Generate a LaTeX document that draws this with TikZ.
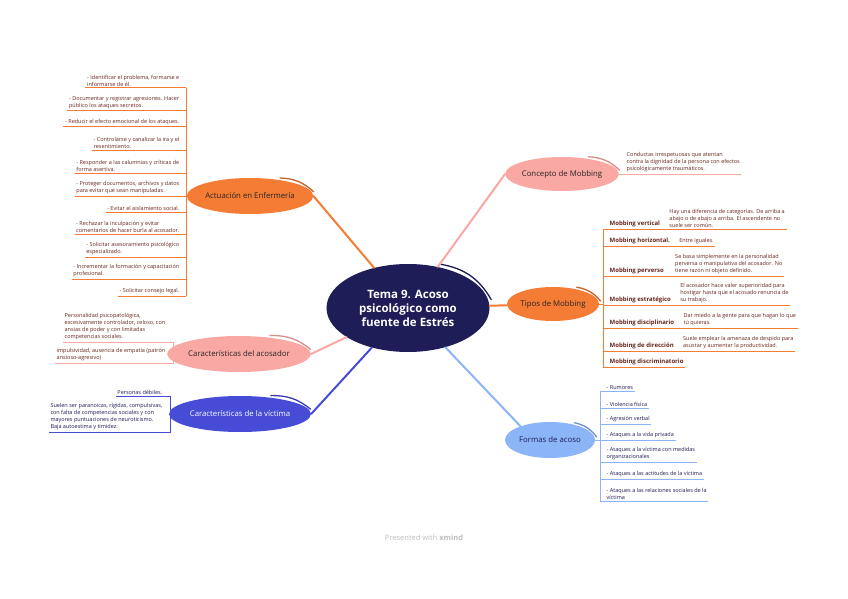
\documentclass[tikz,border=0pt]{standalone}
\usepackage{fontspec}
\setmainfont{Open Sans}
\usetikzlibrary{shapes.geometric}
\definecolor{mmnavy}{RGB}{30,29,88}
\definecolor{mmorange}{RGB}{245,124,52}
\definecolor{mmpink}{RGB}{249,168,164}
\definecolor{mmblue}{RGB}{70,76,214}
\definecolor{mmsky}{RGB}{140,181,248}
\definecolor{leafred}{RGB}{105,38,30}
\definecolor{leafnavy}{RGB}{30,29,88}
\tikzset{
  root/.style={ellipse, fill=mmnavy, text=white, minimum width=163pt, minimum height=88pt,
              inner sep=0pt, align=center, font=\fontsize{11.5}{14}\selectfont\bfseries},
  topic/.style={ellipse, inner sep=0pt, minimum height=36pt, align=center,
              font=\fontsize{7.8}{9}\selectfont, text=black!85},
  leaf/.style={inner sep=1.5pt, align=left, font=\fontsize{5.5}{7}\selectfont, text=leafred},
  kind/.style={leaf, font=\fontsize{6}{7}\selectfont\bfseries},
  branch/.style={line width=2pt, line cap=round},
  twig/.style={line width=1pt},
  swoosh/.style={line width=1.3pt, line cap=round},
}

\begin{document}
\begin{tikzpicture}[x=1pt, y=-1pt]
    \fill[white] (0,0) rectangle (848,599);
    \useasboundingbox (0,0) rectangle (848,599);

    % main topics
    \node[root] (root) at (408,308) {Tema 9. Acoso\\ psicológico como\\ fuente de Estrés};
    \node[topic, fill=mmorange, minimum width=120pt] (act) at (250,196) {Actuación en Enfermería};
    \node[topic, fill=mmpink, minimum width=124pt] (acos) at (239,354) {Características del acosador};
    \node[topic, fill=mmblue, text=white, minimum width=128pt] (vict) at (240,414) {Características de la víctima};
    \node[topic, fill=mmpink, minimum width=110pt, minimum height=34pt] (conc) at (562,174) {Concepto de Mobbing};
    \node[topic, fill=mmorange, minimum width=90pt, minimum height=34pt] (tipos) at (553,304) {Tipos de Mobbing};
    \node[topic, fill=mmsky, text=mmnavy, minimum width=90pt] (form) at (550,440) {Formas de acoso};

    \draw[swoosh, mmnavy] ([xshift=1pt, yshift=3pt]root.52) to[bend left=25] ([xshift=3pt]root.6);
    \draw[swoosh, mmorange!80!black] ([yshift=2pt]act.28) to[bend left=20] ([xshift=2pt]act.4);
    \draw[swoosh, mmpink!85!black] ([yshift=2pt]acos.28) to[bend left=20] ([xshift=2pt]acos.4);
    \draw[swoosh, mmblue!80!black] ([yshift=2pt]vict.28) to[bend left=20] ([xshift=2pt]vict.4);
    \draw[swoosh, mmpink!85!black] ([yshift=2pt]conc.30) to[bend left=20] ([xshift=2pt]conc.4);
    \draw[swoosh, mmorange!80!black] ([yshift=2pt]tipos.32) to[bend left=20] ([xshift=2pt]tipos.4);
    \draw[swoosh, mmsky!80!black] ([yshift=2pt]form.32) to[bend left=20] ([xshift=2pt]form.4);

    \draw[branch, mmorange] (root) -- (act.east);
    \draw[branch, mmpink] (root) -- (acos.east);
    \draw[branch, mmblue] (root) -- (vict.east);
    \draw[branch, mmpink] (root) -- (conc.west);
    \draw[branch, mmorange] (root) -- (tipos);
    \draw[branch, mmsky] (root) -- (form.155);

    % Actuación en Enfermería
    \coordinate (actT) at (186,196);
    \node[leaf, anchor=south east] (a1) at (181,88) {- Identificar el problema, formarse e\\informarse de él.};
    \node[leaf, anchor=south east] (a2) at (181,111) {- Documentar y registrar agresiones. Hacer\\público los ataques secretos.};
    \node[leaf, anchor=south east] (a3) at (181,127) {- Reducir el efecto emocional de los ataques.};
    \node[leaf, anchor=south east] (a4) at (181,150) {- Controlarse y canalizar la ira y el\\resentimiento.};
    \node[leaf, anchor=south east] (a5) at (181,173) {- Responder a las calumnias y críticas de\\forma asertiva.};
    \node[leaf, anchor=south east] (a6) at (181,196) {- Proteger documentos, archivos y datos\\para evitar que sean manipuladas.};
    \node[leaf, anchor=south east] (a7) at (181,212) {- Evitar el aislamiento social.};
    \node[leaf, anchor=south east] (a8) at (181,234) {- Rechazar la inculpación y evitar\\comentarios de hacer burla al acosador.};
    \node[leaf, anchor=south east] (a9) at (181,257) {- Solicitar asesoramiento psicológico\\especializado.};
    \node[leaf, anchor=south east] (a10) at (181,279) {- Incrementar la formación y capacitación\\profesional.};
    \node[leaf, anchor=south east] (a11) at (181,296) {- Solicitar consejo legal.};
    \draw[twig, mmorange] (a1.south west -| actT) -- (a11.south west -| actT);
    \draw[twig, mmorange] (act.west) -- (actT);
    \draw[twig, mmorange] (a1.south west) -- (a1.south west -| actT);
    \draw[twig, mmorange] (a2.south west) -- (a2.south west -| actT);
    \draw[twig, mmorange] (a3.south west) -- (a3.south west -| actT);
    \draw[twig, mmorange] (a4.south west) -- (a4.south west -| actT);
    \draw[twig, mmorange] (a5.south west) -- (a5.south west -| actT);
    \draw[twig, mmorange] (a6.south west) -- (a6.south west -| actT);
    \draw[twig, mmorange] (a7.south west) -- (a7.south west -| actT);
    \draw[twig, mmorange] (a8.south west) -- (a8.south west -| actT);
    \draw[twig, mmorange] (a9.south west) -- (a9.south west -| actT);
    \draw[twig, mmorange] (a10.south west) -- (a10.south west -| actT);
    \draw[twig, mmorange] (a11.south west) -- (a11.south west -| actT);

    % Características del acosador
    \coordinate (acosT) at (173,354);
    \node[leaf, anchor=south east] (ac1) at (167,342) {Personalidad psicopatológica,\\excesivamente controlador, celoso, con\\ansias de poder y con limitadas\\competencias sociales.};
    \node[leaf, anchor=south east] (ac2) at (167,363) {impulsividad, ausencia de empatía (patrón\\ansioso-agresivo)};
    \draw[twig, mmpink] (ac1.south west) -- (ac1.south west -| acosT) -- (ac2.south west -| acosT) -- (ac2.south west);
    \draw[twig, mmpink] (acos.west) -- (acosT);

    % Características de la víctima
    \coordinate (victT) at (170,414);
    \node[leaf, text=leafnavy, anchor=south east] (vi1) at (164,396) {Personas débiles.};
    \node[leaf, text=leafnavy, anchor=south east] (vi2) at (164,432) {Suelen ser paranoicas, rígidas, compulsivas,\\con falta de competencias sociales y con\\mayores puntuaciones de neuroticismo.\\Baja autoestima y timidez.};
    \draw[twig, mmblue] (vi1.south west) -- (vi1.south west -| victT) -- (vi2.south west -| victT) -- (vi2.south west);
    \draw[twig, mmblue] (vict.west) -- (victT);

    % Concepto de Mobbing
    \node[leaf, anchor=south west] (c1) at (625,174) {Conductas irrespetuosas que atentan\\contra la dignidad de la persona con efectos\\psicológicamente traumáticos.};
    \draw[twig, mmpink] (conc.east) -- (c1.south east);

    % Tipos de Mobbing
    \coordinate (tipT) at (603,304);
    \node[kind, anchor=south west] (tv) at (608,229) {Mobbing vertical};
    \node[leaf, anchor=south west] (tvd) at ([xshift=6pt]tv.south east) {Hay una diferencia de categorías. De arriba a\\abajo o de abajo a arriba. El ascendente no\\suele ser común.};
    \node[kind, anchor=south west] (th) at (608,246) {Mobbing horizontal.};
    \node[leaf, anchor=south west] (thd) at ([xshift=6pt]th.south east) {Entre iguales.};
    \node[kind, anchor=south west] (tp) at (608,276) {Mobbing perverso};
    \node[leaf, anchor=south west] (tpd) at ([xshift=8pt]tp.south east) {Se basa simplemente en la personalidad\\perversa o manipulativa del acosador. No\\tiene razón ni objeto definido.};
    \node[kind, anchor=south west] (te) at (608,305) {Mobbing estratégico};
    \node[leaf, anchor=south west] (ted) at ([xshift=6pt]te.south east) {El acosador hace valer superioridad para\\hostigar hasta que el acosado renuncia de\\su trabajo.};
    \node[kind, anchor=south west] (td) at (608,328) {Mobbing disciplinario};
    \node[leaf, anchor=south west] (tdd) at ([xshift=6pt]td.south east) {Dar miedo a la gente para que hagan lo que\\tú quieras.};
    \node[kind, anchor=south west] (tr) at (608,351) {Mobbing de dirección};
    \node[leaf, anchor=south west] (trd) at ([xshift=6pt]tr.south east) {Suele emplear la amenaza de despido para\\asustar y aumentar la productividad.};
    \node[kind, anchor=south west] (tx) at (608,367) {Mobbing discriminatorio};
    \draw[twig, mmorange] (tv.south west -| tipT) -- (tx.south west -| tipT);
    \draw[twig, mmorange] (tipos.east) -- (tipT);
    \draw[twig, mmorange] (tv.south west -| tipT) -- (tvd.south east);
    \draw[twig, mmorange] (th.south west -| tipT) -- (thd.south east);
    \draw[twig, mmorange] (tp.south west -| tipT) -- (tpd.south east);
    \draw[twig, mmorange] (te.south west -| tipT) -- (ted.south east);
    \draw[twig, mmorange] (td.south west -| tipT) -- (tdd.south east);
    \draw[twig, mmorange] (tr.south west -| tipT) -- (trd.south east);
    \draw[twig, mmorange] (tx.south west -| tipT) -- (tx.south east);

    % Formas de acoso
    \coordinate (formT) at (600,440);
    \node[leaf, text=leafnavy, anchor=south west] (f1) at (605,391) {- Rumores};
    \node[leaf, text=leafnavy, anchor=south west] (f2) at (605,408) {- Violencia física};
    \node[leaf, text=leafnavy, anchor=south west] (f3) at (605,424) {- Agresión verbal};
    \node[leaf, text=leafnavy, anchor=south west] (f4) at (605,440) {- Ataques a la vida privada};
    \node[leaf, text=leafnavy, anchor=south west] (f5) at (605,462) {- Ataques a la víctima con medidas\\organizacionales};
    \node[leaf, text=leafnavy, anchor=south west] (f6) at (605,479) {- Ataques a las actitudes de la víctima};
    \node[leaf, text=leafnavy, anchor=south west] (f7) at (605,501) {- Ataques a las relaciones sociales de la\\víctima};
    \draw[twig, mmsky] (f1.south west -| formT) -- (f7.south west -| formT);
    \draw[twig, mmsky] (form.east) -- (formT);
    \draw[twig, mmsky] (f1.south west -| formT) -- (f1.south east);
    \draw[twig, mmsky] (f2.south west -| formT) -- (f2.south east);
    \draw[twig, mmsky] (f3.south west -| formT) -- (f3.south east);
    \draw[twig, mmsky] (f4.south west -| formT) -- (f4.south east);
    \draw[twig, mmsky] (f5.south west -| formT) -- (f5.south east);
    \draw[twig, mmsky] (f6.south west -| formT) -- (f6.south east);
    \draw[twig, mmsky] (f7.south west -| formT) -- (f7.south east);

    \node[font=\fontsize{7.5}{8}\selectfont, text=black!25] (foot) at (424,538) {Presented with \textbf{xmind}};
  \end{tikzpicture}
\end{document}
